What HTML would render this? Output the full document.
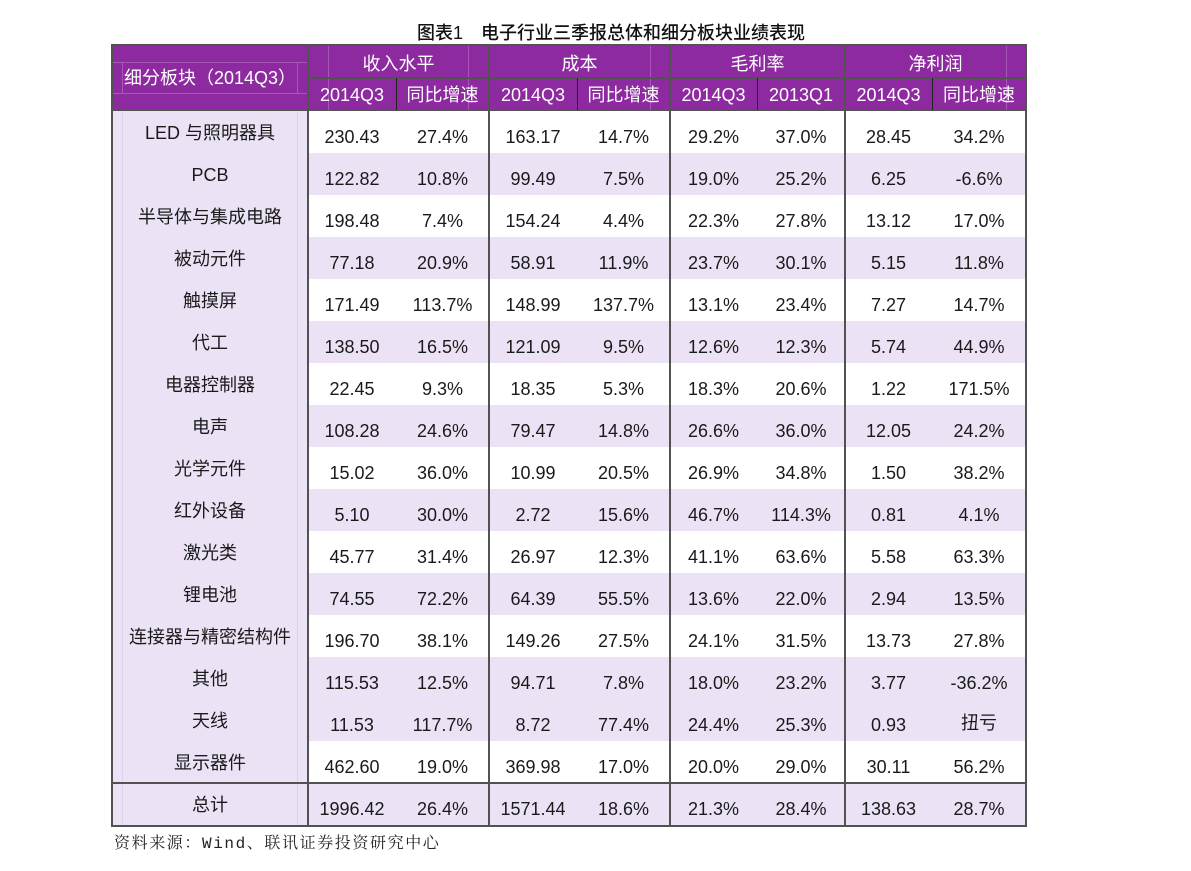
<!DOCTYPE html>
<html><head><meta charset="utf-8">
<style>
html,body{margin:0;padding:0;background:#fff;}
body{width:1191px;height:871px;position:relative;overflow:hidden;font-family:"Liberation Sans","Noto Sans CJK SC",sans-serif;color:#1a1a1a;}
.title{position:absolute;left:417px;top:20px;height:26px;line-height:26px;font-size:18px;font-weight:500;white-space:nowrap;color:#111;font-family:"Liberation Sans","Noto Sans CJK SC",sans-serif;}
.src{position:absolute;left:114px;top:832px;height:24px;line-height:24px;font-size:16px;letter-spacing:1.6px;white-space:nowrap;color:#222;font-family:"Liberation Mono","Noto Serif CJK SC",serif;}
.hdr{position:absolute;left:112px;top:45px;width:914px;height:65px;background:#8e2aa0;}
.row{position:absolute;left:112px;width:914px;height:42px;display:flex;}
.row.lav{background:#ebe3f5;}
.c{height:100%;text-align:center;font-size:18px;line-height:42px;white-space:nowrap;}
.c span{position:relative;top:5px;}
.c.l{background:#ebe3f5;}
.c.l span{top:1px;}
.w0{width:196px}.w1{width:88px}.w2{width:93px}.w3{width:88px}.w4{width:93px}.w5{width:87px}.w6{width:88px}.w7{width:87px}.w8{width:94px}
.ht{position:absolute;color:#fff;font-size:18px;text-align:center;white-space:nowrap;}
.ln{position:absolute;background:#525252;}
.fl{position:absolute;background:#a857b8;}
.fb{position:absolute;background:#ddd2ea;}
</style></head><body>
<div class="title">图表1　电子行业三季报总体和细分板块业绩表现</div>

<div class="hdr"></div>
<!-- faint lines in header -->
<div class="fl" style="left:112px;top:62px;width:196px;height:1px;"></div>
<div class="fl" style="left:112px;top:93px;width:196px;height:1px;"></div>
<div class="fl" style="left:122px;top:62px;width:1px;height:31px;"></div>
<div class="fl" style="left:297px;top:62px;width:1px;height:31px;"></div>
<div class="fl" style="left:328px;top:45px;width:1px;height:65px;"></div>
<div class="fl" style="left:468px;top:45px;width:1px;height:65px;"></div>
<div class="fl" style="left:650px;top:45px;width:1px;height:65px;"></div>
<div class="fl" style="left:1006px;top:45px;width:1px;height:65px;"></div>

<!-- header texts -->
<div class="ht" style="left:112px;top:65px;width:196px;line-height:26px;">细分板块（2014Q3）</div>
<div class="ht" style="left:308px;top:50px;width:181px;line-height:28px;">收入水平</div>
<div class="ht" style="left:489px;top:50px;width:181px;line-height:28px;">成本</div>
<div class="ht" style="left:670px;top:50px;width:175px;line-height:28px;">毛利率</div>
<div class="ht" style="left:845px;top:50px;width:181px;line-height:28px;">净利润</div>
<div class="ht" style="left:308px;top:82px;width:88px;line-height:26px;">2014Q3</div>
<div class="ht" style="left:396px;top:82px;width:93px;line-height:26px;">同比增速</div>
<div class="ht" style="left:489px;top:82px;width:88px;line-height:26px;">2014Q3</div>
<div class="ht" style="left:577px;top:82px;width:93px;line-height:26px;">同比增速</div>
<div class="ht" style="left:670px;top:82px;width:87px;line-height:26px;">2014Q3</div>
<div class="ht" style="left:757px;top:82px;width:88px;line-height:26px;">2013Q1</div>
<div class="ht" style="left:845px;top:82px;width:87px;line-height:26px;">2014Q3</div>
<div class="ht" style="left:932px;top:82px;width:94px;line-height:26px;">同比增速</div>

<!-- body rows -->
<div class="row" style="top:110.5px;"><div class="c l w0"><span>LED 与照明器具</span></div><div class="c w1"><span>230.43</span></div><div class="c w2"><span>27.4%</span></div><div class="c w3"><span>163.17</span></div><div class="c w4"><span>14.7%</span></div><div class="c w5"><span>29.2%</span></div><div class="c w6"><span>37.0%</span></div><div class="c w7"><span>28.45</span></div><div class="c w8"><span>34.2%</span></div></div>
<div class="row lav" style="top:152.5px;"><div class="c l w0"><span>PCB</span></div><div class="c w1"><span>122.82</span></div><div class="c w2"><span>10.8%</span></div><div class="c w3"><span>99.49</span></div><div class="c w4"><span>7.5%</span></div><div class="c w5"><span>19.0%</span></div><div class="c w6"><span>25.2%</span></div><div class="c w7"><span>6.25</span></div><div class="c w8"><span>-6.6%</span></div></div>
<div class="row" style="top:194.5px;"><div class="c l w0"><span>半导体与集成电路</span></div><div class="c w1"><span>198.48</span></div><div class="c w2"><span>7.4%</span></div><div class="c w3"><span>154.24</span></div><div class="c w4"><span>4.4%</span></div><div class="c w5"><span>22.3%</span></div><div class="c w6"><span>27.8%</span></div><div class="c w7"><span>13.12</span></div><div class="c w8"><span>17.0%</span></div></div>
<div class="row lav" style="top:236.5px;"><div class="c l w0"><span>被动元件</span></div><div class="c w1"><span>77.18</span></div><div class="c w2"><span>20.9%</span></div><div class="c w3"><span>58.91</span></div><div class="c w4"><span>11.9%</span></div><div class="c w5"><span>23.7%</span></div><div class="c w6"><span>30.1%</span></div><div class="c w7"><span>5.15</span></div><div class="c w8"><span>11.8%</span></div></div>
<div class="row" style="top:278.5px;"><div class="c l w0"><span>触摸屏</span></div><div class="c w1"><span>171.49</span></div><div class="c w2"><span>113.7%</span></div><div class="c w3"><span>148.99</span></div><div class="c w4"><span>137.7%</span></div><div class="c w5"><span>13.1%</span></div><div class="c w6"><span>23.4%</span></div><div class="c w7"><span>7.27</span></div><div class="c w8"><span>14.7%</span></div></div>
<div class="row lav" style="top:320.5px;"><div class="c l w0"><span>代工</span></div><div class="c w1"><span>138.50</span></div><div class="c w2"><span>16.5%</span></div><div class="c w3"><span>121.09</span></div><div class="c w4"><span>9.5%</span></div><div class="c w5"><span>12.6%</span></div><div class="c w6"><span>12.3%</span></div><div class="c w7"><span>5.74</span></div><div class="c w8"><span>44.9%</span></div></div>
<div class="row" style="top:362.5px;"><div class="c l w0"><span>电器控制器</span></div><div class="c w1"><span>22.45</span></div><div class="c w2"><span>9.3%</span></div><div class="c w3"><span>18.35</span></div><div class="c w4"><span>5.3%</span></div><div class="c w5"><span>18.3%</span></div><div class="c w6"><span>20.6%</span></div><div class="c w7"><span>1.22</span></div><div class="c w8"><span>171.5%</span></div></div>
<div class="row lav" style="top:404.5px;"><div class="c l w0"><span>电声</span></div><div class="c w1"><span>108.28</span></div><div class="c w2"><span>24.6%</span></div><div class="c w3"><span>79.47</span></div><div class="c w4"><span>14.8%</span></div><div class="c w5"><span>26.6%</span></div><div class="c w6"><span>36.0%</span></div><div class="c w7"><span>12.05</span></div><div class="c w8"><span>24.2%</span></div></div>
<div class="row" style="top:446.5px;"><div class="c l w0"><span>光学元件</span></div><div class="c w1"><span>15.02</span></div><div class="c w2"><span>36.0%</span></div><div class="c w3"><span>10.99</span></div><div class="c w4"><span>20.5%</span></div><div class="c w5"><span>26.9%</span></div><div class="c w6"><span>34.8%</span></div><div class="c w7"><span>1.50</span></div><div class="c w8"><span>38.2%</span></div></div>
<div class="row lav" style="top:488.5px;"><div class="c l w0"><span>红外设备</span></div><div class="c w1"><span>5.10</span></div><div class="c w2"><span>30.0%</span></div><div class="c w3"><span>2.72</span></div><div class="c w4"><span>15.6%</span></div><div class="c w5"><span>46.7%</span></div><div class="c w6"><span>114.3%</span></div><div class="c w7"><span>0.81</span></div><div class="c w8"><span>4.1%</span></div></div>
<div class="row" style="top:530.5px;"><div class="c l w0"><span>激光类</span></div><div class="c w1"><span>45.77</span></div><div class="c w2"><span>31.4%</span></div><div class="c w3"><span>26.97</span></div><div class="c w4"><span>12.3%</span></div><div class="c w5"><span>41.1%</span></div><div class="c w6"><span>63.6%</span></div><div class="c w7"><span>5.58</span></div><div class="c w8"><span>63.3%</span></div></div>
<div class="row lav" style="top:572.5px;"><div class="c l w0"><span>锂电池</span></div><div class="c w1"><span>74.55</span></div><div class="c w2"><span>72.2%</span></div><div class="c w3"><span>64.39</span></div><div class="c w4"><span>55.5%</span></div><div class="c w5"><span>13.6%</span></div><div class="c w6"><span>22.0%</span></div><div class="c w7"><span>2.94</span></div><div class="c w8"><span>13.5%</span></div></div>
<div class="row" style="top:614.5px;"><div class="c l w0"><span>连接器与精密结构件</span></div><div class="c w1"><span>196.70</span></div><div class="c w2"><span>38.1%</span></div><div class="c w3"><span>149.26</span></div><div class="c w4"><span>27.5%</span></div><div class="c w5"><span>24.1%</span></div><div class="c w6"><span>31.5%</span></div><div class="c w7"><span>13.73</span></div><div class="c w8"><span>27.8%</span></div></div>
<div class="row lav" style="top:656.5px;"><div class="c l w0"><span>其他</span></div><div class="c w1"><span>115.53</span></div><div class="c w2"><span>12.5%</span></div><div class="c w3"><span>94.71</span></div><div class="c w4"><span>7.8%</span></div><div class="c w5"><span>18.0%</span></div><div class="c w6"><span>23.2%</span></div><div class="c w7"><span>3.77</span></div><div class="c w8"><span>-36.2%</span></div></div>
<div class="row lav" style="top:698.5px;"><div class="c l w0"><span>天线</span></div><div class="c w1"><span>11.53</span></div><div class="c w2"><span>117.7%</span></div><div class="c w3"><span>8.72</span></div><div class="c w4"><span>77.4%</span></div><div class="c w5"><span>24.4%</span></div><div class="c w6"><span>25.3%</span></div><div class="c w7"><span>0.93</span></div><div class="c w8"><span style="top:3px">扭亏</span></div></div>
<div class="row" style="top:740.5px;"><div class="c l w0"><span>显示器件</span></div><div class="c w1"><span>462.60</span></div><div class="c w2"><span>19.0%</span></div><div class="c w3"><span>369.98</span></div><div class="c w4"><span>17.0%</span></div><div class="c w5"><span>20.0%</span></div><div class="c w6"><span>29.0%</span></div><div class="c w7"><span>30.11</span></div><div class="c w8"><span>56.2%</span></div></div>
<div class="row lav" style="top:782.5px;height:43.5px;"><div class="c l w0" style="line-height:43px;"><span>总计</span></div><div class="c w1" style="line-height:43px;"><span>1996.42</span></div><div class="c w2" style="line-height:43px;"><span>26.4%</span></div><div class="c w3" style="line-height:43px;"><span>1571.44</span></div><div class="c w4" style="line-height:43px;"><span>18.6%</span></div><div class="c w5" style="line-height:43px;"><span>21.3%</span></div><div class="c w6" style="line-height:43px;"><span>28.4%</span></div><div class="c w7" style="line-height:43px;"><span>138.63</span></div><div class="c w8" style="line-height:43px;"><span>28.7%</span></div></div>

<!-- faint body lines in first column -->
<div class="fb" style="left:122px;top:110px;width:1px;height:716px;"></div>
<div class="fb" style="left:297px;top:110px;width:1px;height:716px;"></div>

<!-- structural lines -->
<div class="ln" style="left:111px;top:44px;width:916px;height:2px;"></div>
<div class="ln" style="left:111px;top:825px;width:916px;height:2px;"></div>
<div class="ln" style="left:111px;top:44px;width:2px;height:783px;"></div>
<div class="ln" style="left:1025px;top:44px;width:2px;height:783px;"></div>
<div class="ln" style="left:307px;top:44px;width:2px;height:783px;"></div>
<div class="ln" style="left:488px;top:44px;width:2px;height:783px;"></div>
<div class="ln" style="left:669px;top:44px;width:2px;height:783px;"></div>
<div class="ln" style="left:844px;top:44px;width:2px;height:783px;"></div>
<div class="ln" style="left:308px;top:77px;width:718px;height:1.5px;"></div>
<div class="ln" style="left:112px;top:109.5px;width:914px;height:1.5px;"></div>
<div class="ln" style="left:112px;top:782px;width:914px;height:1.5px;"></div>
<div class="ln" style="left:395.5px;top:78px;width:1.5px;height:32px;background:#222;"></div>
<div class="ln" style="left:576.5px;top:78px;width:1.5px;height:32px;background:#222;"></div>
<div class="ln" style="left:756.5px;top:78px;width:1.5px;height:32px;background:#222;"></div>
<div class="ln" style="left:931.5px;top:78px;width:1.5px;height:32px;background:#222;"></div>

<div class="src">资料来源：Wind、联讯证券投资研究中心</div>
</body></html>
